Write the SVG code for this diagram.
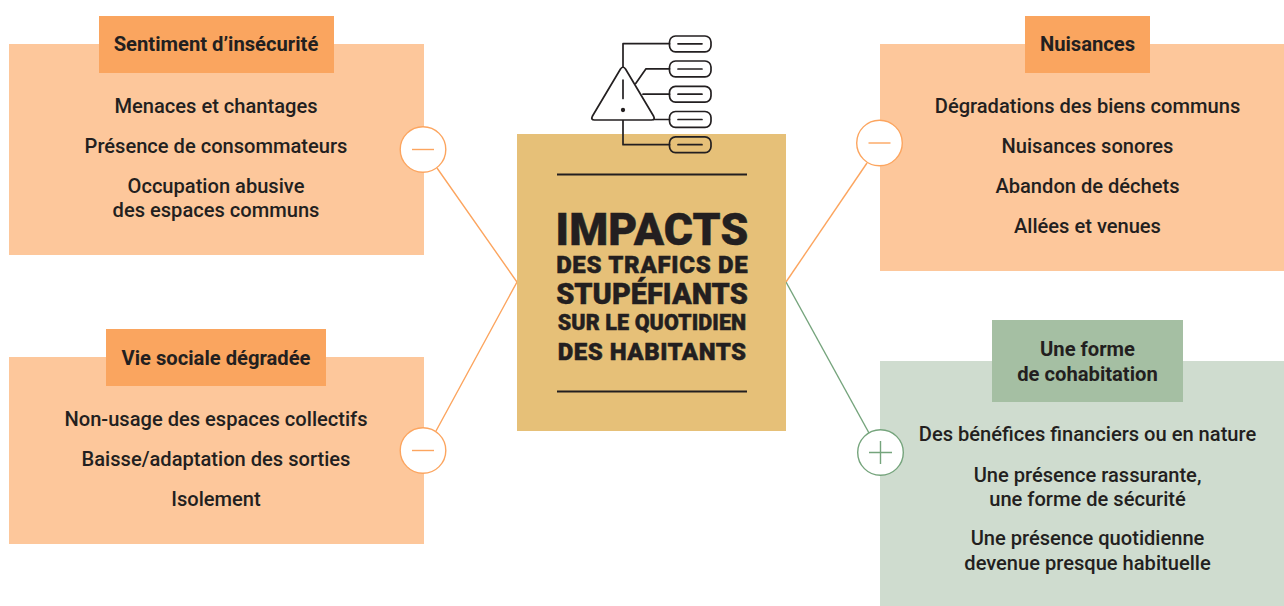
<svg xmlns="http://www.w3.org/2000/svg" width="1284" height="606" viewBox="0 0 1284 606">
<style>
text{font-family:Roboto,"Liberation Sans",sans-serif;font-weight:500;font-size:20.100px;fill:#231f20;text-anchor:middle}
.h{font-weight:700;font-size:20.200px}
.o{fill:#fdc79b}.oh{fill:#faa55f}.g{fill:#cfdccf}.gh{fill:#a5bfa3}
.co{fill:none;stroke:#fca55f;stroke-width:1.4}.cg{fill:none;stroke:#75a47c;stroke-width:1.4}
.co2{fill:#fff;stroke:#fca55f;stroke-width:1.4}.cg2{fill:#fff;stroke:#75a47c;stroke-width:1.4}
.ic{fill:none;stroke:#231f20;stroke-width:1.7;stroke-linejoin:round;stroke-linecap:round}
.t{font-weight:900;stroke:#231f20;stroke-width:.45}
</style>
<rect width="1284" height="606" fill="#fff"/>
<g id="box-sentiment">
<rect class="o" x="9" y="44" width="415" height="211"/>
<rect class="oh" x="99" y="16" width="235" height="57"/>
<text class="h" x="216" y="50.500">Sentiment d’insécurité</text>
<text x="216" y="112.500">Menaces et chantages</text>
<text x="216" y="152.500">Présence de consommateurs</text>
<text x="216" y="192.500">Occupation abusive</text>
<text x="216" y="216.500">des espaces communs</text>
</g>
<g id="box-vie">
<rect class="o" x="9" y="357" width="415" height="187"/>
<rect class="oh" x="106" y="329" width="220" height="57"/>
<text class="h" x="216" y="364.500">Vie sociale dégradée</text>
<text x="216" y="425.500">Non-usage des espaces collectifs</text>
<text x="216" y="465.500">Baisse/adaptation des sorties</text>
<text x="216" y="505.500">Isolement</text>
</g>
<g id="box-nuisances">
<rect class="o" x="880" y="44" width="404" height="227"/>
<rect class="oh" x="1025" y="16" width="125" height="57"/>
<text class="h" x="1087.500" y="50.500">Nuisances</text>
<text x="1087.500" y="112.500">Dégradations des biens communs</text>
<text x="1087.500" y="152.500">Nuisances sonores</text>
<text x="1087.500" y="192.500">Abandon de déchets</text>
<text x="1087.500" y="232.500">Allées et venues</text>
</g>
<g id="box-cohabitation">
<rect class="g" x="880" y="361" width="404" height="245"/>
<rect class="gh" x="992" y="320" width="191" height="82"/>
<text class="h" x="1087.500" y="355.500">Une forme</text>
<text class="h" x="1087.500" y="380.500">de cohabitation</text>
<text x="1087.500" y="440.500">Des bénéfices financiers ou en nature</text>
<text x="1087.500" y="481.500">Une présence rassurante,</text>
<text x="1087.500" y="505.500">une forme de sécurité</text>
<text x="1087.500" y="544.500">Une présence quotidienne</text>
<text x="1087.500" y="569.500">devenue presque habituelle</text>
</g>
<g id="connectors">
<path class="co" d="M437 168L517 282L436 431"/>
<path class="co" d="M786 282L867 163"/>
<path class="cg" d="M786 282L869 433"/>
</g>
<g id="center">
<rect x="517" y="134" width="269" height="297" fill="#e6c078"/>
<path d="M557 174.500H747M557 391.500H747" stroke="#231f20" stroke-width="2" fill="none"/>
<text class="t" x="652" y="244.500" style="font-size:44.500px;letter-spacing:.2px">IMPACTS</text>
<text class="t" x="652.300" y="272.500" style="font-size:24px;letter-spacing:.7px">DES TRAFICS DE</text>
<text class="t" x="652" y="303.500" style="font-size:29px">STUPÉFIANTS</text>
<text class="t" x="652" y="330" style="font-size:21.500px;letter-spacing:.1px">SUR LE QUOTIDIEN</text>
<text class="t" x="652.200" y="360" style="font-size:24px;letter-spacing:.5px">DES HABITANTS</text>
</g>
<g id="icon" class="ic">
<path class="ic" d="M623 67.500V43.700H669.500M635.700 83.500L646 68.800H669.500M643 94.200H669.500M654 119.500H669.500M623 120V144.700H669.500"/>
<path d="M620.500 69Q623 65.500 625.500 69L653.500 116Q655.500 120 651.500 120H594.500Q590.500 120 592.500 116Z" fill="#fff" stroke="#231f20" stroke-width="1.700" stroke-linejoin="round"/>
<path class="ic" d="M623 80V98.500"/>
<circle cx="623" cy="110" r="1.300" fill="#231f20"/>
<g fill="none" stroke="#231f20" stroke-width="1.700">
<rect x="669.500" y="36" width="41.500" height="15.800" rx="6"/>
<rect x="669.500" y="61" width="41.500" height="15.800" rx="6"/>
<rect x="669.500" y="86.300" width="41.500" height="15.800" rx="6"/>
<rect x="669.500" y="111.500" width="41.500" height="15.800" rx="6"/>
<rect x="669.500" y="136.800" width="41.500" height="15.800" rx="6"/>
<path d="M678 43.800H702M678 69H702M678 94.200H702M678 119.500H702M678 144.700H702"/>
</g>
</g>
<g id="sign-sentiment"><circle class="co2" cx="423" cy="149.500" r="22.800"/><path class="co" d="M412 149.500H434"/></g>
<g id="sign-vie"><circle class="co2" cx="423" cy="450.500" r="22.800"/><path class="co" d="M412 450.500H434"/></g>
<g id="sign-nuisances"><circle class="co2" cx="879.500" cy="143" r="22.800"/><path class="co" d="M868.500 143H890.500"/></g>
<g id="sign-cohabitation"><circle class="cg2" cx="880.500" cy="452.500" r="22.800"/><path class="cg" d="M869 452.500H892M880.500 441V464"/></g>
</svg>
